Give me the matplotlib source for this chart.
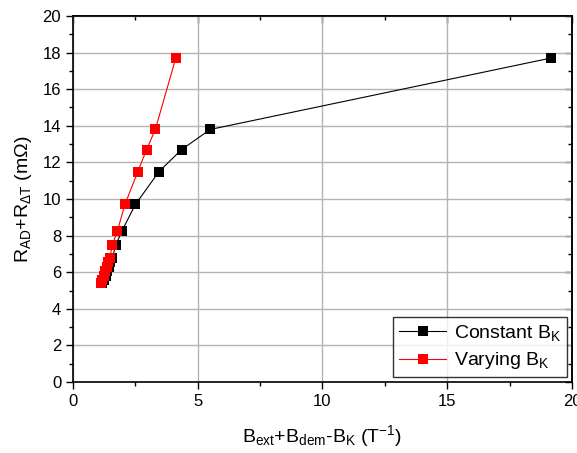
import matplotlib
matplotlib.use('Agg')
import matplotlib.pyplot as plt
from matplotlib.ticker import MultipleLocator

plt.rcParams['font.family'] = ['Liberation Sans', 'DejaVu Sans']
plt.rcParams['mathtext.default'] = 'regular'

# constant B_K series
x_const = [19.15, 5.5, 4.35, 3.45, 2.5, 1.96, 1.72, 1.58, 1.5, 1.43, 1.37, 1.31, 1.24, 1.18]
y_const = [17.7, 13.8, 12.7, 11.5, 9.7, 8.25, 7.5, 6.8, 6.55, 6.3, 6.05, 5.8, 5.6, 5.4]

# varying B_K series
x_vary = [4.12, 3.3, 2.95, 2.6, 2.08, 1.78, 1.58, 1.48, 1.42, 1.36, 1.3, 1.24, 1.18, 1.12]
y_vary = [17.7, 13.8, 12.7, 11.5, 9.7, 8.25, 7.5, 6.8, 6.55, 6.3, 6.05, 5.8, 5.6, 5.4]

fig = plt.figure(figsize=(5.77, 4.53), dpi=100)
ax = fig.add_axes([0.1265, 0.1567, 0.8648, 0.808])

ax.plot(x_const, y_const, color='black', lw=0.8, marker='s', ms=6.5,
        markeredgewidth=0, label='Constant B$_K$', zorder=3)
ax.plot(x_vary, y_vary, color='red', lw=0.8, marker='s', ms=6.5,
        markeredgewidth=0, label='Varying B$_K$', zorder=4)

ax.set_xlim(0, 20)
ax.set_ylim(0, 20)
ax.xaxis.set_major_locator(MultipleLocator(5))
ax.xaxis.set_minor_locator(MultipleLocator(2.5))
ax.yaxis.set_major_locator(MultipleLocator(2))
ax.yaxis.set_minor_locator(MultipleLocator(1))
ax.grid(True, which='major', color='#b4b4b4', lw=1.0)
ax.set_axisbelow(True)

ax.tick_params(axis='both', which='both', direction='out', labelsize=12,
               width=1.0, top=False, right=False)
ax.tick_params(which='major', length=5)
ax.tick_params(which='minor', length=3)

# inward ticks on top and right
sec_x = ax.secondary_xaxis('top')
sec_x.xaxis.set_major_locator(MultipleLocator(5))
sec_x.xaxis.set_minor_locator(MultipleLocator(2.5))
sec_x.tick_params(which='both', direction='in', labeltop=False, width=1.0)
sec_x.tick_params(which='major', length=5)
sec_x.tick_params(which='minor', length=3)
sec_y = ax.secondary_yaxis('right')
sec_y.yaxis.set_major_locator(MultipleLocator(2))
sec_y.yaxis.set_minor_locator(MultipleLocator(1))
sec_y.tick_params(which='both', direction='in', labelright=False, width=1.0)
sec_y.tick_params(which='major', length=5)
sec_y.tick_params(which='minor', length=3)
for s in [sec_x.spines['top'], sec_y.spines['right']]:
    s.set_linewidth(1.2)
for s in ax.spines.values():
    s.set_linewidth(1.2)

ax.set_xlabel('B$_{ext}$+B$_{dem}$-B$_K$ (T$^{-1}$)', fontsize=14, labelpad=10)
ax.set_ylabel('R$_{AD}$+R$_{\\Delta T}$ (m$\\Omega$)', fontsize=14, labelpad=6)

leg = ax.legend(loc='lower right', fontsize=14, frameon=True, fancybox=False,
                edgecolor='black', handlelength=2.4, handletextpad=0.4,
                borderaxespad=0.25, borderpad=0.3, labelspacing=0.4)
leg.get_frame().set_linewidth(1.0)

fig.savefig('out.png', dpi=100)
